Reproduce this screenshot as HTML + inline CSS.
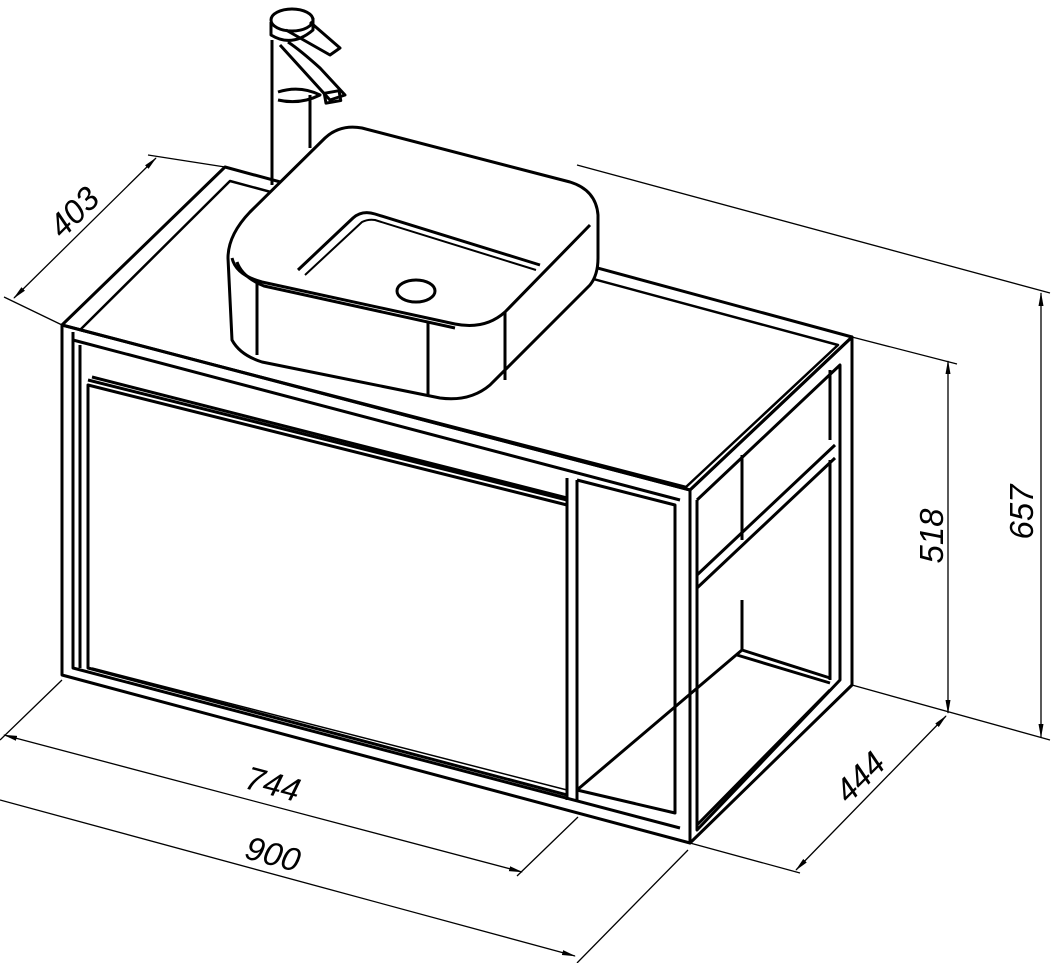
<!DOCTYPE html>
<html><head><style>
html,body{margin:0;padding:0;background:#fff;}
svg{display:block}
text{font-family:"Liberation Sans",sans-serif;font-style:italic;font-size:33px;fill:#000}
</style></head><body>
<svg width="1055" height="963" viewBox="0 0 1055 963" xmlns="http://www.w3.org/2000/svg">
<defs>
<marker id="a" markerWidth="14" markerHeight="6" refX="13" refY="3" orient="auto" markerUnits="userSpaceOnUse">
<path d="M0,0.5 L14,3 L0,5.5 z" fill="#000"/></marker>
<marker id="b" markerWidth="14" markerHeight="6" refX="1" refY="3" orient="auto" markerUnits="userSpaceOnUse">
<path d="M14,0.5 L0,3 L14,5.5 z" fill="#000"/></marker>
</defs>
<g fill="none" stroke="#000" stroke-width="1.3">
<line x1="62" y1="325" x2="4" y2="297"/>
<line x1="225" y1="167" x2="148" y2="155"/>
<line x1="14" y1="298" x2="156" y2="158" marker-start="url(#b)" marker-end="url(#a)"/>
<line x1="577" y1="165" x2="1050" y2="293"/>
<line x1="852" y1="685" x2="1050" y2="740"/>
<line x1="1041" y1="293" x2="1041" y2="737" marker-start="url(#b)" marker-end="url(#a)"/>
<line x1="852" y1="337" x2="957" y2="364"/>
<line x1="948" y1="361" x2="948" y2="713" marker-start="url(#b)" marker-end="url(#a)"/>
<line x1="690" y1="843" x2="800" y2="873"/>
<line x1="796" y1="870" x2="946" y2="716" marker-start="url(#b)" marker-end="url(#a)"/>
<line x1="62" y1="680" x2="0" y2="740"/>
<line x1="578" y1="817" x2="517" y2="876"/>
<line x1="4" y1="735" x2="522" y2="872" marker-start="url(#b)" marker-end="url(#a)"/>
<line x1="688" y1="850" x2="577" y2="963"/>
<line x1="0" y1="800" x2="575" y2="956" marker-end="url(#a)"/>
</g>
<text transform="translate(82,220) rotate(-45)" text-anchor="middle">403</text>
<text transform="translate(1033,512) rotate(-90)" text-anchor="middle">657</text>
<text transform="translate(943,536) rotate(-90)" text-anchor="middle">518</text>
<text transform="translate(868,785) rotate(-45)" text-anchor="middle">444</text>
<text transform="translate(270,795) rotate(15)" text-anchor="middle">744</text>
<text transform="translate(270,865) rotate(15)" text-anchor="middle">900</text>

<g fill="none" stroke="#000" stroke-width="3" stroke-linejoin="round">
<polygon points="62,325 225,167 852,337 690,490"/>
<polygon points="80,330 230,181 838,345 686,487" stroke-width="2.5"/>
<polygon points="62,325 690,490 690,843 62,675"/>
<polyline points="73,332 73,668 680,828"/>
<line x1="73" y1="340" x2="680" y2="500"/>
<polyline points="80,345 80,668"/>
<polyline points="88,380 567,500"/>
<polyline points="92,377 567,498"/>
<polygon points="88,385 567,505 567,795 88,668"/>
<line x1="92" y1="668" x2="567" y2="790" stroke-width="1.5"/>
<line x1="567" y1="478" x2="567" y2="800"/>
<line x1="577" y1="480" x2="577" y2="800"/>
<polyline points="577,480 675,505 675,813 577,790"/>
<line x1="577" y1="790" x2="742" y2="650"/>
<polygon points="690,490 852,337 852,685 690,843"/>
<polyline points="697,500 840,365 840,680 697,830 697,500"/>
<polyline points="697,575 835,445"/>
<polyline points="697,588 835,458"/>
<line x1="830" y1="370" x2="830" y2="440"/>
<line x1="830" y1="460" x2="830" y2="680"/>
<line x1="742" y1="455" x2="742" y2="540"/>
<line x1="742" y1="600" x2="742" y2="650"/>
<polyline points="742,650 830,678"/>
<polyline points="737,655 830,683"/>
<line x1="697" y1="825" x2="830" y2="690"/>
<line x1="272" y1="40" x2="272" y2="185"/>
<line x1="310" y1="95" x2="310" y2="148"/>
<ellipse cx="292" cy="20" rx="21" ry="11"/>
<path d="M271,22 L271,35 Q292,48 313,30 L313,18"/>
<path d="M286,30 L330,55 L340,48 L310,22"/>
<path d="M280,45 L330,100 L345,95 L320,68 Q300,50 288,42"/>
<path d="M278,92 Q300,85 320,95 Q300,105 278,100"/>
<rect x="325" y="92" width="15" height="10" transform="rotate(-10 332 97)"/>
<path d="M250,212 Q228,235 228,258 L232,340 Q240,355 262,362 L440,398 Q470,402 490,385 L590,285 Q598,275 598,258 L598,215 Q596,190 570,182 L362,128 Q340,124 325,138 Z" fill="#fff"/>
<path d="M232,258 Q236,275 262,282 L455,324 Q485,330 505,312 L590,225"/>
<path d="M237,262 Q242,277 264,286 L455,328"/>
<line x1="257" y1="280" x2="257" y2="355"/>
<line x1="428" y1="322" x2="428" y2="395"/>
<line x1="505" y1="312" x2="505" y2="380"/>
<path d="M298,270 L353,218 Q362,210 375,214 L540,265"/>
<path d="M305,275 L362,222 Q368,219 375,220 L536,270" stroke-width="2"/>
<ellipse cx="416" cy="291" rx="19" ry="11"/>
</g>
</svg>
</body></html>
